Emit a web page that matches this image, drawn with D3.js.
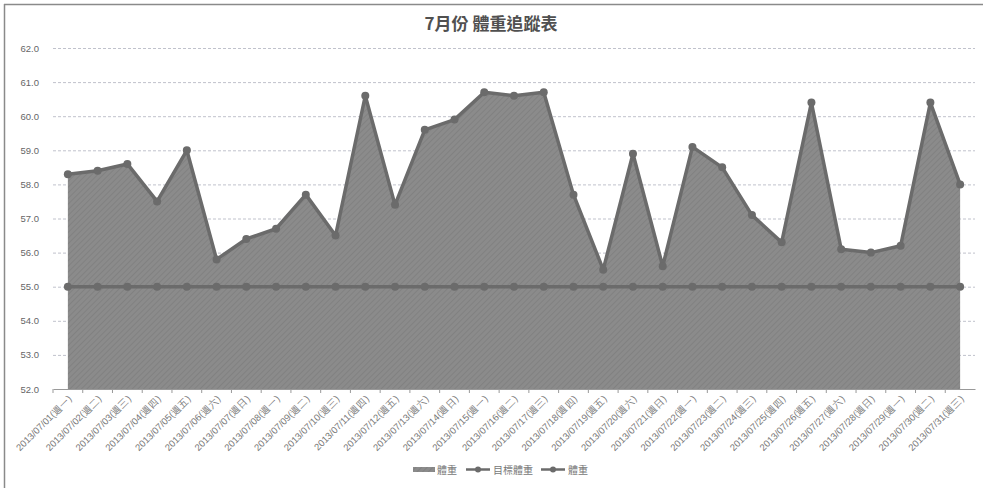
<!DOCTYPE html>
<html><head><meta charset="utf-8">
<script src="https://cdn.jsdelivr.net/npm/d3@7"></script>
<style>html,body{margin:0;padding:0;background:#fff;}svg{display:block;font-family:"Noto Sans CJK TC","Noto Sans",sans-serif;}</style>
</head><body>
<svg id="c" width="983" height="488"></svg>
<script>
const categories = ["2013/07/01(週一)","2013/07/02(週二)","2013/07/03(週三)","2013/07/04(週四)","2013/07/05(週五)","2013/07/06(週六)","2013/07/07(週日)","2013/07/08(週一)","2013/07/09(週二)","2013/07/10(週三)","2013/07/11(週四)","2013/07/12(週五)","2013/07/13(週六)","2013/07/14(週日)","2013/07/15(週一)","2013/07/16(週二)","2013/07/17(週三)","2013/07/18(週四)","2013/07/19(週五)","2013/07/20(週六)","2013/07/21(週日)","2013/07/22(週一)","2013/07/23(週二)","2013/07/24(週三)","2013/07/25(週四)","2013/07/26(週五)","2013/07/27(週六)","2013/07/28(週日)","2013/07/29(週一)","2013/07/30(週二)","2013/07/31(週三)"];
const weight = [58.3,58.4,58.6,57.5,59.0,55.8,56.4,56.7,57.7,56.5,60.6,57.4,59.6,59.9,60.7,60.6,60.7,57.7,55.5,58.9,55.6,59.1,58.5,57.1,56.3,60.4,56.1,56.0,56.2,60.4,58.0];
const target = Array(31).fill(55.0);
const yTicks = [52,53,54,55,56,57,58,59,60,61,62];
const title = "7月份 體重追蹤表";
const legendNames = ["體重","目標體重","體重"];

const svg = d3.select("#c");
const W = 983, H = 488;
const x = d3.scaleBand().domain(categories).range([53, 975]);
const y = d3.scaleLinear().domain([52, 62]).range([389, 48]);
const cx = d => x(d) + x.bandwidth()/2;

// frame
svg.append("line").attr("x1",4).attr("x2",W).attr("y1",4.5).attr("y2",4.5).attr("stroke","#8a8a8a").attr("stroke-width",1.5);
svg.append("line").attr("x1",4.5).attr("x2",4.5).attr("y1",4).attr("y2",H).attr("stroke","#8a8a8a").attr("stroke-width",1.5);

// pattern
const defs = svg.append("defs");
const pat = defs.append("pattern").attr("id","hatch").attr("patternUnits","userSpaceOnUse").attr("width",4).attr("height",4).attr("patternTransform","rotate(45)");
pat.append("rect").attr("width",4).attr("height",4).attr("fill","#8b8b8b");
pat.append("line").attr("x1",0).attr("y1",0).attr("x2",0).attr("y2",4).attr("stroke","#7e7e7e").attr("stroke-width",1.5);

// title
svg.append("text").attr("x",491).attr("y",30).attr("text-anchor","middle").attr("font-size",17).attr("font-weight","bold").attr("fill","#505050").text(title);

// gridlines
svg.append("g").selectAll("line").data(yTicks.slice(1)).join("line")
  .attr("x1",53).attr("x2",975).attr("y1",d=>y(d)+0.5).attr("y2",d=>y(d)+0.5)
  .attr("stroke","#c0c2cc").attr("stroke-width",1).attr("stroke-dasharray","3,2");

// y axis labels
const yAxis = d3.axisLeft(y).tickValues(yTicks).tickFormat(d3.format(".1f")).tickSize(0).tickPadding(14);
const gy = svg.append("g").attr("transform","translate(53,0)").call(yAxis);
gy.select(".domain").remove();
gy.selectAll("text").attr("font-size",9.5).attr("fill","#666").attr("font-family","Liberation Sans, Arial, sans-serif");

// area
const area = d3.area().x((d,i)=>cx(categories[i])).y0(y(52)).y1(d=>y(d));
svg.append("path").datum(weight).attr("d",area).attr("fill","url(#hatch)");

// x axis
const xAxis = d3.axisBottom(x).tickSize(0).tickPadding(0);
const gx = svg.append("g").attr("transform",`translate(0,${y(52)})`).call(xAxis);
gx.select(".domain").attr("stroke","#999");
gx.selectAll(".tick text").attr("font-size",9.5).attr("fill","#777").attr("text-anchor","end")
  .attr("transform","translate(2,8) rotate(-45)").attr("dy","0.35em");
svg.append("g").selectAll("line").data(categories).join("line")
  .attr("x1",d=>x(d)).attr("x2",d=>x(d)).attr("y1",y(52)).attr("y2",y(52)+4).attr("stroke","#999");

// lines
const line = d3.line().x((d,i)=>cx(categories[i])).y(d=>y(d));
const lineColor = "#6b6b6b";
function series(data){
  svg.append("path").datum(data).attr("d",line).attr("fill","none").attr("stroke",lineColor).attr("stroke-width",3.5).attr("stroke-linejoin","round");
  svg.append("g").selectAll("circle").data(data).join("circle")
    .attr("cx",(d,i)=>cx(categories[i])).attr("cy",d=>y(d)).attr("r",4).attr("fill",lineColor);
}
series(target);
series(weight);

// legend
const lg = svg.append("g").attr("font-size",10).attr("fill","#666");
lg.append("rect").attr("x",413).attr("y",467).attr("width",22).attr("height",5).attr("fill","url(#hatch)");
lg.append("text").attr("x",437).attr("y",473.5).text(legendNames[0]).attr("fill","#777");
[[466,legendNames[1]],[541,legendNames[2]]].forEach(([lx,name])=>{
  lg.append("line").attr("x1",lx).attr("x2",lx+24).attr("y1",469.5).attr("y2",469.5).attr("stroke",lineColor).attr("stroke-width",2.5);
  lg.append("circle").attr("cx",lx+12).attr("cy",469.5).attr("r",3).attr("fill",lineColor);
  lg.append("text").attr("x",lx+27).attr("y",473.5).text(name).attr("fill","#777");
});
</script>
</body></html>
